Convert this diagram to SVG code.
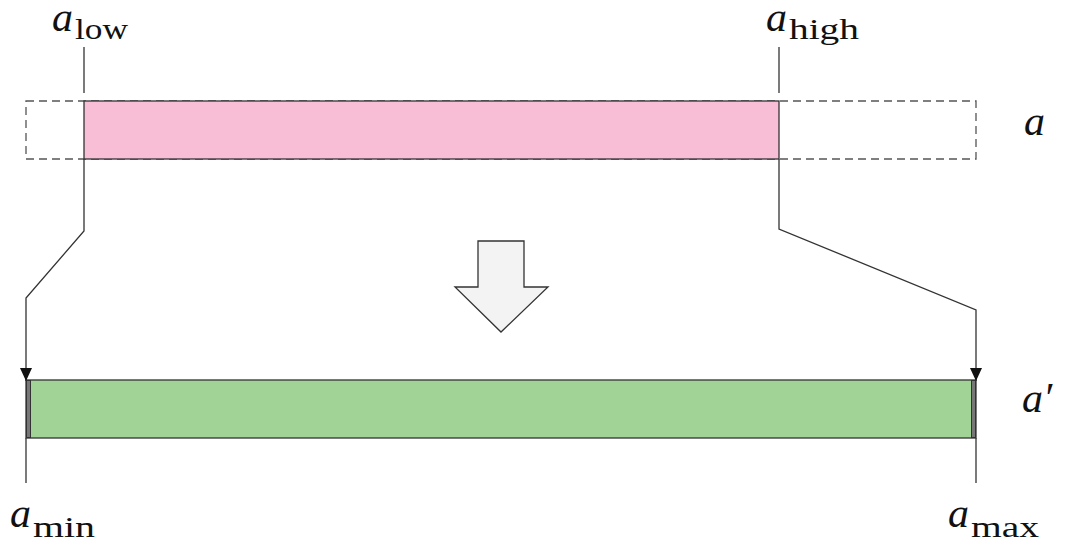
<svg xmlns="http://www.w3.org/2000/svg" width="1074" height="552" viewBox="0 0 1074 552">
<style>
.ln{fill:none;stroke:#333;stroke-width:1.3}
.dash{fill:none;stroke:#555;stroke-width:1.3;stroke-dasharray:8 5}
.lab{font-family:"Liberation Serif",serif;fill:#111}
.it{font-style:italic;font-size:42px}
.sub{font-size:30px}
</style>
<defs>
<marker id="ah" viewBox="0 0 13 12" refX="13" refY="6" markerWidth="13" markerHeight="12" markerUnits="userSpaceOnUse" orient="auto">
<path d="M0,0 L13,6 L0,12 Z" fill="#111"/>
</marker>
</defs>
<rect width="1074" height="552" fill="#fff"/>
<g id="array-a">
<rect class="dash" x="26" y="101" width="950" height="58"/>
<rect x="84" y="101" width="695" height="58" fill="#f7bed6" stroke="#333" stroke-width="1.3"/>
</g>
<g id="array-a-prime">
<rect x="26" y="380" width="950" height="58" fill="#a1d296" stroke="#333" stroke-width="1.3"/>
<rect x="26.5" y="380.5" width="4" height="57" fill="#777" stroke="#333" stroke-width="1"/>
<rect x="971.5" y="380.5" width="4" height="57" fill="#777" stroke="#333" stroke-width="1"/>
</g>
<g id="big-arrow">
<path d="M478,241 L524,241 L524,287 L548,287 L501,332 L455,287 L478,287 Z" fill="#f2f3f2" stroke="#333" stroke-width="1.3"/>
</g>
<g id="connectors">
<line class="ln" x1="84" y1="47" x2="84" y2="93"/>
<line class="ln" x1="779" y1="47" x2="779" y2="93"/>
<path class="ln" d="M84,159 L84,231 L26,298 L26,381" marker-end="url(#ah)"/>
<path class="ln" d="M779,159 L779,229 L976,310 L976,381" marker-end="url(#ah)"/>
<line class="ln" x1="26" y1="438" x2="26" y2="483"/>
<line class="ln" x1="976" y1="438" x2="976" y2="483"/>
</g>
<g id="labels" class="lab">
<text x="52" y="31"><tspan class="it">a</tspan><tspan class="sub" dx="2" dy="8" textLength="53" lengthAdjust="spacingAndGlyphs">low</tspan></text>
<text x="766" y="31"><tspan class="it">a</tspan><tspan class="sub" dx="2" dy="8" textLength="70" lengthAdjust="spacingAndGlyphs">high</tspan></text>
<text x="1024" y="135" class="it">a</text>
<text x="1022" y="412" class="it">a′</text>
<text x="10" y="527"><tspan class="it">a</tspan><tspan class="sub" dx="2" dy="10" textLength="62" lengthAdjust="spacingAndGlyphs">min</tspan></text>
<text x="948" y="527"><tspan class="it">a</tspan><tspan class="sub" dx="2" dy="10" textLength="68" lengthAdjust="spacingAndGlyphs">max</tspan></text>
</g>
</svg>
